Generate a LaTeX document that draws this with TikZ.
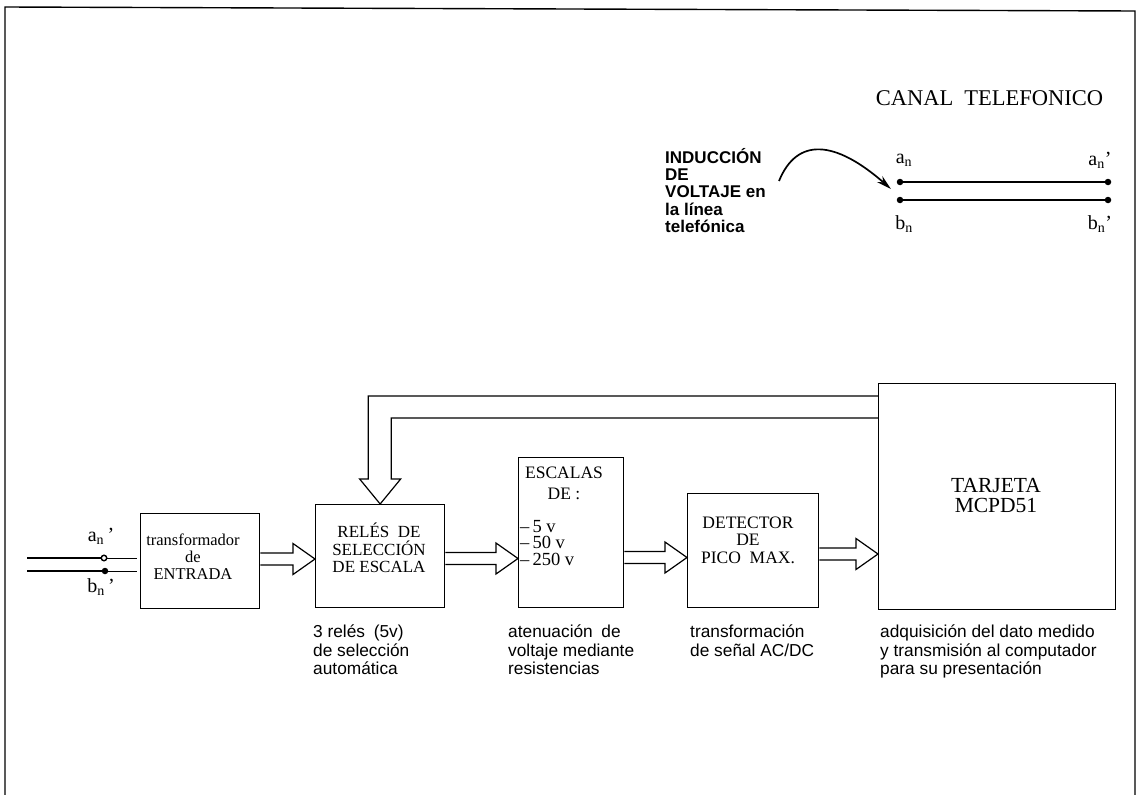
\documentclass[tikz,border=0pt]{standalone}
\usepackage{fontspec}
\setmainfont{Liberation Serif}
\newfontfamily\arialfont{Liberation Sans}
\usetikzlibrary{arrows.meta,calc}
\newcommand\hollowarrow[3]{%
  \draw[harrow] let \p1=(#1.east), \p2=(#2.west), \p3=(#3) in
    (\x1,\y3+6pt) -- (\x2-22pt,\y3+6pt) -- (\x2-22pt,\y3+15.5pt) -- (\x2,\y3)
    -- (\x2-22pt,\y3-15.5pt) -- (\x2-22pt,\y3-6pt) -- (\x1,\y3-6pt);}
\begin{document}
\begin{tikzpicture}[x=1pt,y=1pt,
  box/.style 2 args={draw, line width=1.3pt, anchor=north west, inner sep=0pt,
    minimum width=#1, minimum height=#2},
  boxtext/.style={align=center, inner sep=0pt, font=\fontsize{17}{17.5}\selectfont},
  captxt/.style={align=left, anchor=north west, inner sep=0pt,
    font=\arialfont\fontsize{17.3}{17}\selectfont},
  lab/.style={inner sep=0pt, font=\fontsize{20}{20}\selectfont},
  dot/.style={circle, fill, inner sep=0pt, minimum size=6.5pt},
  odot/.style={circle, draw, fill=white, line width=1.4pt, inner sep=0pt, minimum size=5.5pt},
  wire/.style={line width=1.3pt},
  harrow/.style={line width=1.2pt, line join=miter},
  frame/.style={line width=1.4pt}]
\useasboundingbox (0,0) rectangle (1138,-795);
% frame
\draw[frame] (5,-795) -- (5,-7) -- (1135,-11) -- (1135,-795);

% ---- telephone channel ----
\node[font=\fontsize{22.5}{22.5}\selectfont, inner sep=0pt] (canal) at (989.5,-98.5) {CANAL\hspace{11pt}TELEFONICO};
\node[align=left, anchor=north west, inner sep=0pt,
  font=\arialfont\bfseries\fontsize{17}{17.3}\selectfont] (induc) at (665,-148)
  {INDUCCIÓN\\DE\\VOLTAJE en\\la línea\\telefónica};
\node[dot] (an) at (900,-182) {};
\node[dot] (ana) at (1108,-182) {};
\node[dot] (bn) at (900,-200) {};
\node[dot] (bna) at (1108,-200) {};
\draw[wire] (an) -- (ana);
\draw[wire] (bn) -- (bna);
\node[lab] (lan) at (904,-160) {a\textsubscript{n}};
\node[lab] (lana) at (1100,-160) {a\textsubscript{n}'};
\node[lab] (lbn) at (904,-224) {b\textsubscript{n}};
\node[lab] (lbna) at (1100,-224) {b\textsubscript{n}'};
\coordinate (cs) at (779,-181);
\coordinate (ce) at (891,-189);
\draw[line width=1.7pt, -{Stealth[length=15pt,width=8pt]}] (cs) .. controls (797,-137) and (835,-140) .. (ce);

% ---- block chain ----
\node[box={119pt}{95pt}] (trans) at (140,-513) {};
\node[box={129pt}{103pt}] (rele) at (315,-504) {};
\node[box={105pt}{150pt}] (esc) at (518,-457) {};
\node[box={131pt}{114pt}] (det) at (687,-493) {};
\node[box={237pt}{226pt}] (tarj) at (878,-383) {};

\node[boxtext, font=\fontsize{16.5}{17}\selectfont] (transT) at (193,-557) {transformador\\de\\ENTRADA};
\node[boxtext] (releT) at (379,-548) {RELÉS\enspace DE\\SELECCIÓN\\DE ESCALA};
\node[boxtext, font=\fontsize{17.5}{21}\selectfont] (escT) at (564,-483) {ESCALAS\\DE :};
\node[align=left, anchor=west, inner sep=0pt, font=\fontsize{18.5}{16.5}\selectfont] (escV) at (520,-543)
  {–\,5 v\\–\,50 v\\–\,250 v};
\node[boxtext, font=\fontsize{17.5}{17.5}\selectfont] (detT) at (748,-540) {DETECTOR\\DE\\PICO\enspace MAX.};
\node[boxtext, font=\fontsize{21.5}{20}\selectfont] (tarjT) at (996,-496) {TARJETA\\MCPD51};

% hollow arrows
\coordinate (ya) at (0,-559);
\coordinate (yb) at (0,-558.5);
\coordinate (yc) at (0,-557.5);
\coordinate (yd) at (0,-554);
\hollowarrow{trans}{rele}{ya}
\hollowarrow{rele}{esc}{yb}
\hollowarrow{esc}{det}{yc}
\hollowarrow{det}{tarj}{yd}

% feedback
\coordinate (fo) at (0,-396);
\coordinate (fi) at (0,-418);
\draw[harrow] let \p1=(tarj.west |- fo), \p2=(tarj.west |- fi), \p3=(rele.north) in
  (\p1) -- (\x3-12pt,\y1) -- (\x3-12pt,\y3+25pt) -- (\x3-20.5pt,\y3+25pt) -- (\x3,\y3)
  -- (\x3+20.5pt,\y3+25pt) -- (\x3+11pt,\y3+25pt) -- (\x3+11pt,\y2) -- (\p2);

% input lines
\coordinate (ia) at (27,-558);
\coordinate (ib) at (27,-571);
\node[odot] (da) at (104,-558) {};
\node[dot] (db) at (105,-571) {};
\draw[wire] (ia) -- (da);
\draw[wire] (ib) -- (db);
\draw[line width=1pt] (da) -- ($(trans.west |- da)+(-3,0)$);
\draw[line width=1pt] (db) -- ($(trans.west |- db)+(-3,0)$);
\node[lab] (ila) at (101,-536) {a\textsubscript{n}\,'};
\node[lab] (ilb) at (101,-587) {b\textsubscript{n}\,'};

% captions
\node[captxt] (c1) at (313,-625) {3 relés\enspace(5v)\\[1.5pt]de selección\\[1.5pt]automática};
\node[captxt] (c2) at (508,-625) {atenuación\enspace de\\[1.5pt]voltaje mediante\\[1.5pt]resistencias};
\node[captxt] (c3) at (690,-625) {transformación\\[1.5pt]de señal AC/DC};
\node[captxt] (c4) at (880,-625) {adquisición del dato medido\\[1.5pt]y transmisión al computador\\[1.5pt]para su presentación};
\end{tikzpicture}
\end{document}
